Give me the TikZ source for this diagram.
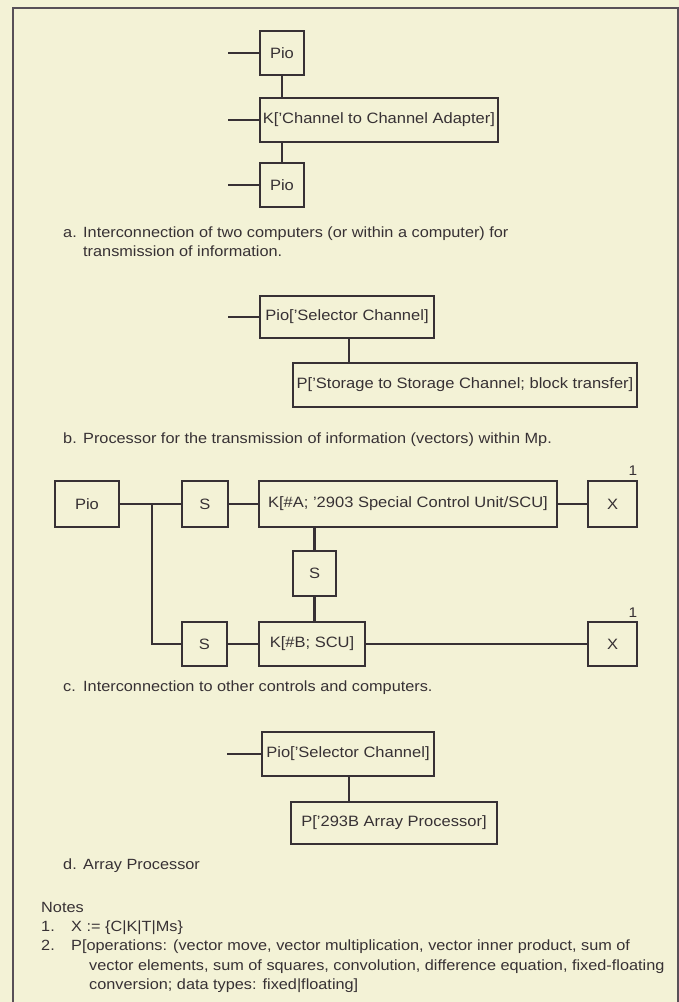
\documentclass[tikz,border=0pt]{standalone}
\usepackage{fontspec}
\setmainfont{Liberation Sans}[FakeStretch=1.1]
\definecolor{paper}{RGB}{243,242,214}
\definecolor{ink}{RGB}{55,49,52}
\definecolor{rule}{RGB}{88,80,88}
\begin{document}
\begin{tikzpicture}[x=1pt,y=-1pt,
  box/.style={draw=ink, line width=1.5pt, inner sep=0pt, text=ink,
              font=\fontsize{15}{18}\selectfont},
  wire/.style={draw=ink, line width=2.1pt},
  stub/.style={draw=ink, line width=2.7pt},
  txt/.style={anchor=base west, inner sep=0pt, text=ink,
              font=\fontsize{14.8}{18}\selectfont},
  idx/.style={anchor=base, inner sep=0pt, text=ink,
              font=\fontsize{14}{16}\selectfont},
]
% page and frame (open at the bottom)
\fill[paper] (0,0) rectangle (679,1002);
\useasboundingbox (0,0) rectangle (679,1002);
\draw[rule, line width=2pt] (13,1002) -- (13,8) -- (678,8) -- (678,1002);

% ---------------- a. two computers joined by a channel adapter
\node[box, minimum width=44pt, minimum height=44pt] (pa1) at (282,53) {Pio};
\node[box, minimum width=238pt, minimum height=44pt] (ka) at (379,120) {K[’Channel to Channel Adapter]};
\node[box, minimum width=44pt, minimum height=44pt] (pa2) at (282,185) {Pio};
\coordinate (sa1) at (228,53);
\coordinate (sa2) at (228,120);
\coordinate (sa3) at (228,185);
\draw[stub] (sa1) -- (pa1.west);
\draw[stub] (sa2) -- (ka.west);
\draw[stub] (sa3) -- (pa2.west);
\draw[wire] (pa1.south) -- (pa1.south |- ka.north);
\draw[wire] (pa2.north |- ka.south) -- (pa2.north);
\node[txt] (capa0) at (63,237) {a.};
\node[txt] (capa1) at (83,237) {Interconnection of two computers (or within a computer) for};
\node[txt] (capa2) at (83,256) {transmission of information.};

% ---------------- b. storage-to-storage channel
\node[box, minimum width=174pt, minimum height=42pt] (pb) at (347,317) {Pio[’Selector Channel]};
\node[box, minimum width=344pt, minimum height=44pt] (pbp) at (465,385) {P[’Storage to Storage Channel; block transfer]};
\coordinate (sb) at (228,317);
\draw[stub] (sb) -- (pb.west);
\draw[wire] (349,338) coordinate (b1) -- (b1 |- pbp.north);
\node[txt] (capb0) at (63,443) {b.};
\node[txt] (capb1) at (83,443) {Processor for the transmission of information (vectors) within Mp.};

% ---------------- c. links to other controls and computers
\node[box, minimum width=64pt, minimum height=46pt] (pc) at (87,504) {Pio};
\node[box, minimum width=46pt, minimum height=46pt] (s1) at (205,504) {S};
\node[box, minimum width=298pt, minimum height=46pt] (k1) at (408,504) {K[\#A; ’2903 Special Control Unit/SCU]};
\node[box, minimum width=49pt, minimum height=46pt] (x1) at (612.5,504) {X};
\node[box, minimum width=43pt, minimum height=45pt] (s2) at (314.5,573.5) {S};
\node[box, minimum width=45pt, minimum height=44pt] (s3) at (204.5,644) {S};
\node[box, minimum width=106pt, minimum height=44pt] (k2) at (312,644) {K[\#B; SCU]};
\node[box, minimum width=49pt, minimum height=44pt] (x2) at (612.5,644) {X};
\node[idx] (n1) at (633,475) {1};
\node[idx] (n2) at (633,617) {1};
\coordinate (j) at (152,504);
\draw[wire] (pc.east) -- (s1.west);
\draw[wire] (j) -- (j |- s3.west) -- (s3.west);
\draw[wire] (s1.east) -- (k1.west);
\draw[wire] (k1.east) -- (x1.west);
\draw[wire] (s3.east) -- (k2.west);
\draw[wire] (k2.east) -- (x2.west);
\draw[wire] (s2.north |- k1.south) -- (s2.north);
\draw[wire] (s2.south) -- (s2.south |- k2.north);
\node[txt] (capc0) at (63,691) {c.};
\node[txt] (capc1) at (83,691) {Interconnection to other controls and computers.};

% ---------------- d. array processor
\node[box, minimum width=172pt, minimum height=44pt] (pd) at (348,754) {Pio[’Selector Channel]};
\node[box, minimum width=206pt, minimum height=42pt] (pdp) at (394,823) {P[’293B Array Processor]};
\coordinate (sd) at (227,754);
\draw[stub] (sd) -- (pd.west);
\draw[wire] (349,776) coordinate (d1) -- (d1 |- pdp.north);
\node[txt] (capd0) at (63,869) {d.};
\node[txt] (capd1) at (83,869) {Array Processor};

% ---------------- notes
\node[txt] (notes) at (41,912) {Notes};
\node[txt] (m1) at (41,931) {1.};
\node[txt] (t1) at (71,931) {X := \{C|K|T|Ms\}};
\node[txt] (m2) at (41,950) {2.};
\node[txt] (t2a) at (71,950) {P[operations: (vector move, vector multiplication, vector inner product, sum of};
\node[txt] (t2b) at (89,970) {vector elements, sum of squares, convolution, difference equation, fixed-floating};
\node[txt] (t2c) at (89,989) {conversion; data types: fixed|floating]};
\end{tikzpicture}
\end{document}
